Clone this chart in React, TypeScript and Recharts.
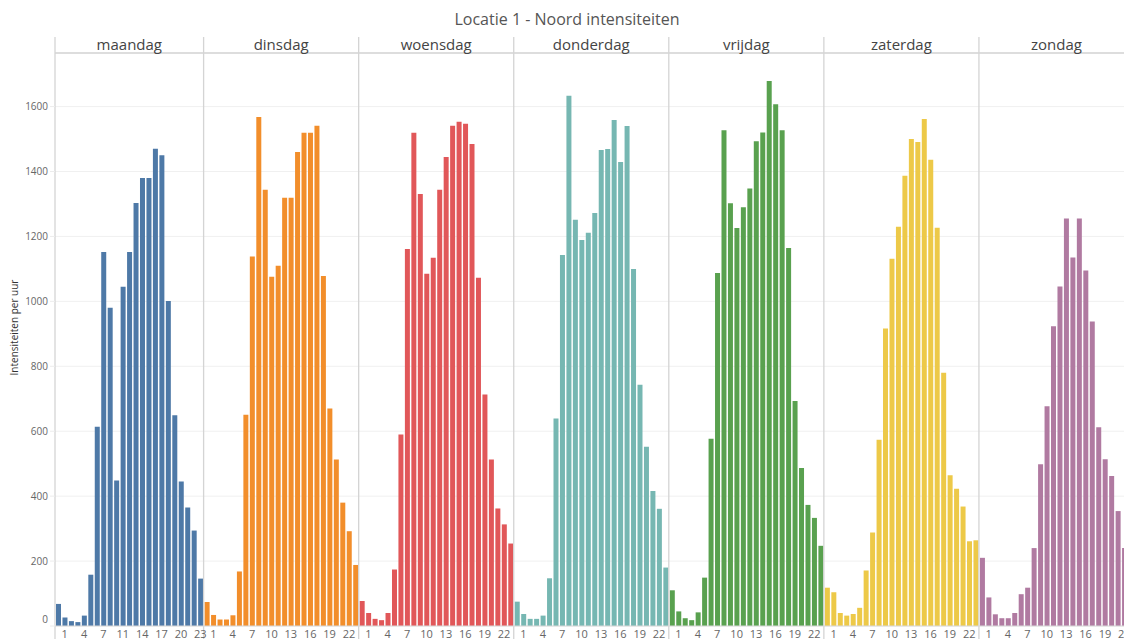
import React from 'react';
import { BarChart, Bar, XAxis, YAxis, CartesianGrid, Cell, ReferenceLine, ReferenceArea } from 'recharts';

const title = 'Locatie 1 - Noord intensiteiten';
const yAxisTitle = 'Intensiteiten per uur';
const days = ['maandag', 'dinsdag', 'woensdag', 'donderdag', 'vrijdag', 'zaterdag', 'zondag'];
const dayColors = ['#4e79a7', '#f28e2b', '#e15759', '#76b7b2', '#59a14f', '#edc948', '#b07aa1'];

const hoursMaandag = [0, 1, 2, 3, 4, 5, 6, 7, 8, 9, 11, 12, 13, 14, 15, 16, 17, 18, 19, 20, 21, 22, 23];
const hoursFull = [0, 1, 2, 3, 4, 5, 6, 7, 8, 9, 10, 11, 12, 13, 14, 15, 16, 17, 18, 19, 20, 21, 22, 23];

const maandag = [68, 26, 15, 12, 32, 158, 614, 1152, 980, 448, 1045, 1152, 1303, 1380, 1380, 1470, 1450, 1001, 649, 445, 365, 294, 146];
const dinsdag = [74, 34, 20, 20, 33, 168, 651, 1138, 1568, 1344, 1076, 1110, 1319, 1319, 1460, 1519, 1519, 1541, 1078, 670, 513, 380, 292, 188];
const woensdag = [77, 40, 22, 18, 40, 174, 590, 1161, 1519, 1331, 1085, 1134, 1344, 1445, 1541, 1553, 1547, 1485, 1073, 713, 513, 362, 313, 254];
const donderdag = [75, 37, 22, 22, 32, 147, 639, 1143, 1633, 1251, 1189, 1211, 1272, 1466, 1469, 1559, 1429, 1540, 1100, 743, 552, 416, 361, 180];
const vrijdag = [110, 45, 24, 18, 42, 149, 577, 1087, 1527, 1302, 1226, 1290, 1348, 1493, 1520, 1679, 1607, 1527, 1164, 693, 487, 373, 333, 247];
const zaterdag = [118, 104, 40, 32, 37, 56, 171, 288, 574, 916, 1131, 1230, 1387, 1500, 1491, 1562, 1436, 1227, 780, 464, 423, 368, 261, 264];
const zondag = [210, 88, 36, 24, 24, 40, 98, 118, 240, 498, 677, 923, 1046, 1255, 1135, 1255, 1095, 938, 612, 514, 462, 354, 240, 150];

const dayValues = [maandag, dinsdag, woensdag, donderdag, vrijdag, zaterdag, zondag];
const dayHours = [hoursMaandag, hoursFull, hoursFull, hoursFull, hoursFull, hoursFull, hoursFull];
const labelPositions = [1, 4, 7, 10, 13, 16, 19, 22];
const yTicks = [0, 200, 400, 600, 800, 1000, 1200, 1400, 1600];

type Row = { key: string; day: number; hour: number; value: number; label: string };

const rows: Row[] = [];
days.forEach((d, di) => {
  dayValues[di].forEach((v, i) => {
    const hour = dayHours[di][i];
    rows.push({
      key: `${d}-${hour}`,
      day: di,
      hour,
      value: v,
      label: labelPositions.includes(i) ? String(hour) : '',
    });
  });
});
const labelByKey: Record<string, string> = {};
rows.forEach((r) => (labelByKey[r.key] = r.label));
const firstKeys = days.map((d, di) => `${d}-${dayHours[di][0]}`);
const lastKeys = days.map((d, di) => `${d}-${dayHours[di][dayHours[di].length - 1]}`);

const DIVIDER = '#d4d4d4';

const ExtendedLine = (props: any) => {
  const top = Math.min(props.y1, props.y2);
  const bottom = Math.max(props.y1, props.y2);
  return <line x1={props.x1} x2={props.x2} y1={top - 16} y2={bottom + 20} stroke={DIVIDER} strokeWidth={1.3} />;
};

const YTick = (props: any) => {
  const { x, y, payload } = props;
  const shift = payload.value === 0 ? -7 : 0;
  return (
    <text x={x} y={y + shift} dy="0.355em" textAnchor="end" fontSize={10} fill="#666">
      {payload.value}
    </text>
  );
};

export default function App() {
  return (
    <div
      style={{
        position: 'absolute',
        left: 0,
        top: 0,
        width: 1124,
        height: 639,
        overflow: 'hidden',
        background: '#fff',
        fontFamily: '"Open Sans", sans-serif',
      }}
    >
      <div
        style={{
          position: 'absolute',
          left: 0,
          top: 8,
          width: 1134,
          textAlign: 'center',
          fontSize: 16,
          lineHeight: '22px',
          color: '#555',
        }}
      >
        {title}
      </div>
      <div style={{ position: 'absolute', left: 0, top: 0 }}>
        <BarChart width={1160} height={680} data={rows} margin={{ top: 37, right: 26, bottom: 23, left: 0 }}>
          <CartesianGrid horizontal vertical={false} stroke="#f0f0f0" />
          <XAxis
            xAxisId="top"
            orientation="top"
            dataKey="key"
            height={16}
            tick={false}
            tickLine={false}
            axisLine={{ stroke: DIVIDER, strokeWidth: 1.3 }}
          />
          <XAxis
            dataKey="key"
            interval={0}
            height={31}
            tickLine={false}
            tickSize={0}
            tickMargin={4}
            axisLine={{ stroke: '#d9d9d9' }}
            tick={{ fontSize: 11, fill: '#666' }}
            tickFormatter={(v: string) => labelByKey[v] || ''}
          />
          <YAxis
            width={55}
            domain={[0, 1765]}
            ticks={yTicks}
            allowDataOverflow
            axisLine={false}
            tickSize={5}
            tickMargin={2}
            tickLine={{ stroke: '#ececec' }}
            tick={<YTick />}
            label={{ value: yAxisTitle, angle: -90, position: 'insideLeft', offset: 14, dy: -12, style: { textAnchor: 'middle', fontSize: 10, fill: '#333' } }}
          />
          {days.map((d, di) => (
            <ReferenceArea
              key={`area-${d}`}
              x1={firstKeys[di]}
              x2={lastKeys[di]}
              fill="none"
              fillOpacity={0}
              stroke="none"
              label={{ value: d, position: 'top', offset: 3, fontSize: 15, fill: '#444' }}
            />
          ))}
          {days.map((d, di) => (
            <ReferenceLine key={`div-${d}`} x={firstKeys[di]} position="start" shape={ExtendedLine} />
          ))}
          <Bar dataKey="value" barSize={5} isAnimationActive={false}>
            {rows.map((r) => (
              <Cell key={r.key} fill={dayColors[r.day]} />
            ))}
          </Bar>
        </BarChart>
      </div>
    </div>
  );
}
